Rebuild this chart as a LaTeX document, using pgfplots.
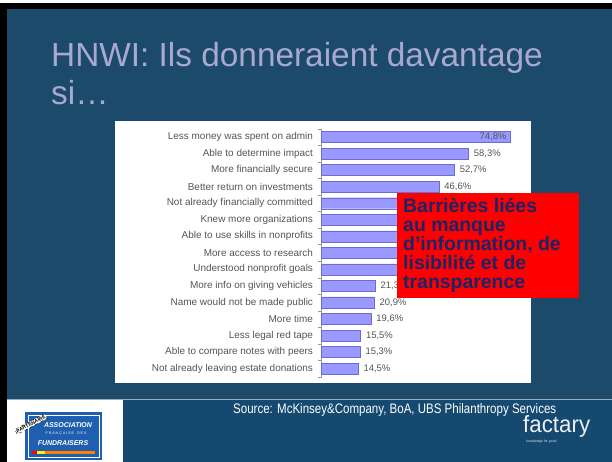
\documentclass[border=0pt]{standalone}
\usepackage{pgfplots}
\pgfplotsset{compat=1.18}
\usepackage{fontspec}
\setmainfont{Liberation Sans}
\usepackage{graphicx}
\definecolor{bgtop}{HTML}{1B4A6A}
\definecolor{bgfoot}{HTML}{154970}
\definecolor{titlec}{HTML}{A9A9CF}
\definecolor{barfill}{HTML}{9999FF}
\definecolor{baredge}{HTML}{6B6BD0}
\definecolor{navy}{HTML}{1C2466}
\definecolor{lblgray}{HTML}{555555}
\definecolor{logoblue}{HTML}{1F5FAF}
\begin{document}
\begin{tikzpicture}
\useasboundingbox (0,0) rectangle (612bp,-462bp);
\fill[white] (0,0) rectangle (612bp,-462bp);
\fill[black] (0,-3bp) rectangle (612bp,-462bp);
\fill[bgtop] (7bp,-9bp) rectangle (612bp,-399bp);
\fill[bgfoot] (7bp,-399bp) rectangle (612bp,-462bp);
\draw[line width=0.8bp, color=white!55!bgtop] (7bp,-399bp) -- (612bp,-399bp);
% title
\node[anchor=base west, inner sep=0, text=titlec, font=\fontsize{33.5}{38}\selectfont] at (51bp,-66bp) {HNWI: Ils donneraient davantage};
\node[anchor=base west, inner sep=0, text=titlec, font=\fontsize{33.5}{38}\selectfont] at (51bp,-104bp) {si…};
% chart box
\fill[white] (115bp,-121bp) rectangle (531bp,-383bp);
\begin{axis}[
  at={(321.5bp,-376.9bp)}, anchor=south west,
  scale only axis, width=201.6bp, height=248.1bp,
  xbar, bar width=11bp, bar shift=0pt,
  xmin=0, xmax=80, ymin=-0.5, ymax=14.5, y dir=reverse,
  axis x line=none, axis y line=left,
  y axis line style={-, color=gray!80},
  ytick={0,...,14},
  yticklabels={Less money was spent on admin, Able to determine impact, More financially secure, Better return on investments, Not already financially committed, Knew more organizations, Able to use skills in nonprofits, More access to research, Understood nonprofit goals, More info on giving vehicles, Name would not be made public, More time, Less legal red tape, Able to compare notes with peers, Not already leaving estate donations},
  major tick length=0pt,
  minor ytick={-0.5,0.5,...,14.5},
  minor tick length=4bp,
  tick align=outside,
  minor tick style={color=gray!80},
  yticklabel style={font=\fontsize{10}{12}\selectfont, text=lblgray, xshift=-5bp},
  point meta=x,
  /pgf/number format/assume math mode=true,
  clip=false,
]
\addplot[fill=barfill, draw=baredge, bar shift=0pt,
  nodes near coords={\pgfmathprintnumber[fixed,fixed zerofill,precision=1,use comma]{\pgfplotspointmeta}\%},
  nodes near coords style={font=\fontsize{9.5}{11}\selectfont, text=lblgray, anchor=west, xshift=2bp}] coordinates {
(58.3,1) (52.7,2) (46.6,3) (21.3,9) (20.9,10) (19.6,11) (15.5,12) (15.3,13) (14.5,14)};
\addplot[fill=barfill, draw=baredge, bar shift=0pt] coordinates {
(40.4,4) (36.7,5) (33.5,6) (31.8,7) (30.8,8)};
\addplot[fill=barfill, draw=baredge, bar shift=0pt,
  nodes near coords={\pgfmathprintnumber[fixed,fixed zerofill,precision=1,use comma]{\pgfplotspointmeta}\%},
  nodes near coords style={font=\fontsize{9.5}{11}\selectfont, text=lblgray, anchor=east, xshift=0bp}] coordinates {(74.8,0)};
\end{axis}
% red box
\fill[red] (397bp,-193bp) rectangle (579bp,-298bp);
\foreach \t/\yy in {Barrières liées/212, au manque/231, d’information{,} de/250, lisibilité et de/269, transparence/288}{
  \node[anchor=base west, inner sep=0, text=navy, font=\fontsize{19.5}{20}\selectfont\bfseries] at (403bp,-\yy bp) {\t};
}
% footer
\node[anchor=base west, inner sep=0, text=white] at (233bp,-413bp) {\resizebox{323bp}{10bp}{Source: McKinsey\&Company, BoA, UBS Philanthropy Services}};
\node[anchor=base west, inner sep=0, text=white!92!bgfoot] at (523bp,-432bp) {\resizebox{67bp}{17bp}{factary}};
\node[anchor=base west, inner sep=0, text=white!85!bgfoot, font=\fontsize{3.5}{4}\selectfont] at (526bp,-442bp) {knowledge for good};
% logo
\fill[white] (7bp,-400bp) rectangle (123bp,-462bp);
\fill[logoblue] (25bp,-412bp) rectangle (102bp,-460bp);
\draw[white, line width=0.6bp] (28bp,-415bp) rectangle (99bp,-457bp);
\node[text=white, font=\fontsize{7}{8}\selectfont\bfseries\itshape, inner sep=0] at (68bp,-425bp) {ASSOCIATION};
\node[text=white, font=\fontsize{3.6}{4}\selectfont, inner sep=0] at (66bp,-434bp) {F R A N Ç A I S E \ \ D E S};
\node[text=white, font=\fontsize{7}{8}\selectfont\bfseries\itshape, inner sep=0] at (63bp,-443bp) {FUNDRAISERS};
\fill[orange] (32bp,-451bp) rectangle (95bp,-453.5bp);
\fill[red] (32bp,-451bp) rectangle (37bp,-453.5bp);
\fill[yellow] (37bp,-451bp) rectangle (45bp,-453.5bp);
\node[rotate=28, draw=black, dashed, fill=white, text=black, font=\fontsize{5}{6}\selectfont\bfseries, inner sep=1bp] at (31bp,-424bp) {PARTENAIRE};
\end{tikzpicture}
\end{document}
